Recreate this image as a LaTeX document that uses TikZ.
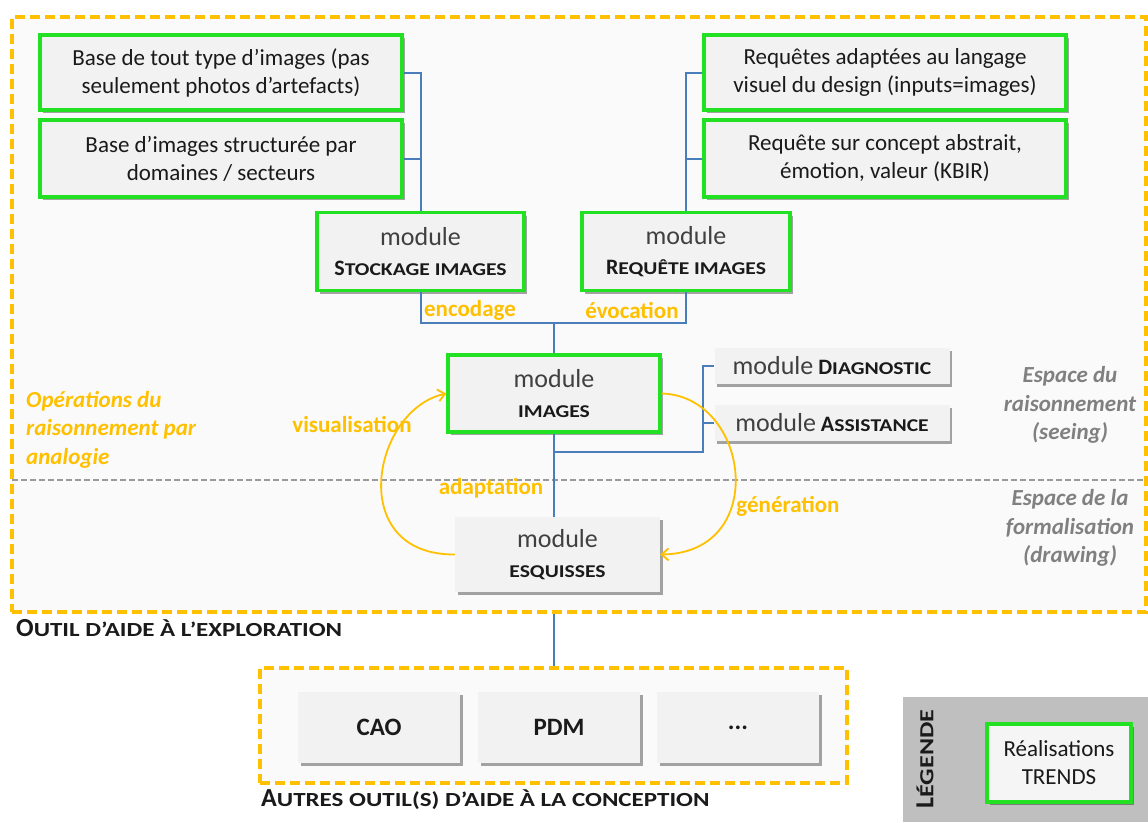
\documentclass[tikz,border=0pt]{standalone}
\usepackage{fontspec}
\usepackage{graphicx}
\setmainfont{Carlito}
\usetikzlibrary{shadows,arrows.meta}
\definecolor{gold}{HTML}{FFC000}
\definecolor{vert}{HTML}{22E022}
\definecolor{bleu}{HTML}{4A7EBB}
\definecolor{boxfill}{HTML}{F2F2F2}
\definecolor{txt}{HTML}{1A1A1A}
\definecolor{modtxt}{HTML}{404040}
\definecolor{espace}{HTML}{808080}
\newcommand\smc[3][1.2]{\scalebox{#1}[1]{\fontsize{#2}{#2}\selectfont #3}}
\newcommand\modl{{\color{modtxt}\fontsize{26}{30}\selectfont module}}
\tikzset{
  shad/.style={drop shadow={shadow xshift=2.5pt,shadow yshift=-3pt,fill=black,opacity=0.35}},
  greenbox/.style={draw=vert,line width=3.5pt,fill=boxfill,shad,align=center,text=txt,font=\fontsize{23}{28}\selectfont,inner sep=0pt},
  plainbox/.style={fill=boxfill,shad,align=center,text=txt,inner sep=0pt},
  modfont/.style={font=\fontsize{22}{30}\selectfont},
  blueline/.style={draw=bleu,line width=2pt},
  dashbox/.style={draw=gold,line width=3.4pt,dash pattern=on 10pt off 5pt,fill=white!98!black},
  oplabel/.style={text=gold,font=\bfseries\fontsize{23}{28}\selectfont,inner sep=0pt},
  arc/.style={draw=gold,line width=1.8pt},
  espacetxt/.style={text=espace,font=\bfseries\itshape\fontsize{23}{28.5}\selectfont,align=center,inner sep=0pt},
  toolbox/.style={plainbox,minimum width=162pt,minimum height=71pt,font=\bfseries\fontsize{25}{28}\selectfont}
}
\begin{document}
\begin{tikzpicture}[x=1pt,y=-1pt]
\useasboundingbox (0,0) rectangle (1148,822);
\fill[white] (0,0) rectangle (1148,822);
% outer dashed box
\node[dashbox,minimum width=1134pt,minimum height=595pt,inner sep=0pt] (outer) at (579,314.5) {};
\draw[espace!80,line width=1.4pt,dash pattern=on 6pt off 3pt] (12,480) -- (1146,480);
% bottom dashed box
\node[dashbox,minimum width=587pt,minimum height=115pt,inner sep=0pt] (autres) at (553.5,725.5) {};

% top boxes
\node[greenbox,minimum width=362pt,minimum height=75pt] (b1) at (221,72.5) {Base de tout type d’images (pas\\seulement photos d’artefacts)};
\node[greenbox,minimum width=362pt,minimum height=77pt] (b2) at (221,158.5) {Base d’images structurée par\\domaines / secteurs};
\node[greenbox,minimum width=362pt,minimum height=75pt] (b3) at (885,72.5) {Requêtes adaptées au langage\\visuel du design (inputs=images)};
\node[greenbox,minimum width=362pt,minimum height=77pt] (b4) at (885,158.5) {Requête sur concept abstrait,\\émotion, valeur (KBIR)};

% modules
\node[greenbox,modfont,minimum width=207pt,minimum height=78pt] (sto) at (420.5,251.5) {\modl\\\textbf{S\smc{18}{TOCKAGE IMAGES}}};
\node[greenbox,modfont,minimum width=208pt,minimum height=78pt] (req) at (686,251.5) {\modl\\\textbf{R\smc{18}{EQUÊTE IMAGES}}};
\node[greenbox,modfont,minimum width=212pt,minimum height=77pt] (img) at (554,393.5) {\modl\\\textbf{\smc{18}{IMAGES}}};
\node[plainbox,modfont,minimum width=235pt,minimum height=36pt] (diag) at (832,366) {\modl{} \textbf{D\smc{18}{IAGNOSTIC}}};
\node[plainbox,modfont,minimum width=235pt,minimum height=36pt] (assi) at (832,423) {\modl{} \textbf{A\smc{18}{SSISTANCE}}};
\node[plainbox,modfont,minimum width=205pt,minimum height=75pt] (esq) at (557.5,554.5) {\modl\\\textbf{\smc{18}{ESQUISSES}}};

% other tools
\node[toolbox] (cao) at (379,727.5) {CAO};
\node[toolbox] (pdm) at (559,727.5) {PDM};
\node[toolbox] (etc) at (738,727.5) {...};

% connectors
\draw[blueline] (b1.east) -| (sto.north);
\draw[blueline] (b2.east) -- (b2.east -| sto.north);
\draw[blueline] (b3.west) -| (req.north);
\draw[blueline] (b4.west) -- (b4.west -| req.north);
\coordinate (j1) at (554,323);
\draw[blueline] (sto.south) |- (j1) -| (req.south);
\draw[blueline] (j1) -- (img.north);
\draw[blueline] (img.south) -- (img.south |- esq.north);
\coordinate (j2) at (554,452);
\coordinate (k) at (703,452);
\draw[blueline] (j2) -- (k) |- (diag.west);
\draw[blueline] (k |- assi.west) -- (assi.west);
\draw[blueline] (img.south |- outer.south) -- (img.south |- autres.north);

% arcs
\draw[arc,-{Straight Barb[length=7pt,width=12pt,line width=1.8pt]}] (esq.west) .. controls (345,555) and (372,410) .. (img.west);
\draw[arc,-{Straight Barb[length=7pt,width=12pt,line width=1.8pt]}] (img.east) .. controls (750,396) and (770,553) .. (esq.east);

% labels
\node[oplabel] at (470,310) {encodage};
\node[oplabel] at (632,310) {évocation};
\node[oplabel] at (352,424) {visualisation};
\node[oplabel] at (491,488) {adaptation};
\node[oplabel] at (788,506) {génération};
\node[oplabel,font=\bfseries\itshape\fontsize{23}{28.5}\selectfont,align=left,anchor=north west] at (26,391) {Opérations du\\raisonnement par\\analogie};
\node[espacetxt] at (1070,405) {Espace du\\raisonnement\\(seeing)};
\node[espacetxt] at (1070,528) {Espace de la\\formalisation\\(drawing)};

\node[anchor=west,inner sep=0pt,text=txt,font=\bfseries\fontsize{26}{28}\selectfont] (t1) at (16,628) {O\smc[1.25]{20}{UTIL D’AIDE À L’EXPLORATION}};
\node[anchor=west,inner sep=0pt,text=txt,font=\bfseries\fontsize{26}{28}\selectfont] (t2) at (261,800) {A\smc[1.25]{20}{UTRES OUTIL(S) D’AIDE À LA CONCEPTION}};

% legend
\fill[black!25] (903,697) rectangle (1148,822);
\node[rotate=90,inner sep=0pt,text=txt,font=\bfseries\fontsize{26}{28}\selectfont] (lg) at (925,759) {L\smc[1.3]{20}{ÉGENDE}};
\node[greenbox,fill=white!96!black,minimum width=144pt,minimum height=78pt] (leg) at (1059,763) {Réalisations\\TRENDS};
\end{tikzpicture}
\end{document}
